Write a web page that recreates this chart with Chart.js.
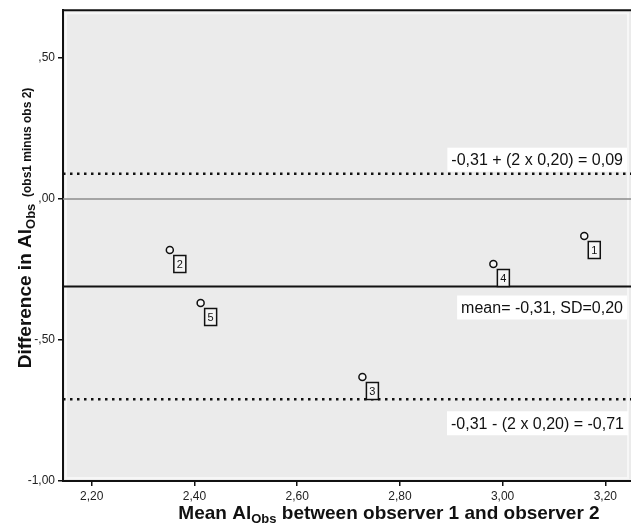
<!DOCTYPE html>
<html>
<head>
<meta charset="utf-8">
<script src="https://cdn.jsdelivr.net/npm/chart.js@4.4.1/dist/chart.umd.min.js"></script>
<style>
  html, body { margin: 0; padding: 0; background: #fff; }
  #plot { display: block; }
</style>
</head>
<body>
<canvas id="plot" width="631" height="529"></canvas>
<script>
'use strict';

// ─── Data ────────────────────────────────────────────────────────────────────
const caseIds   = ['1', '2', '3', '4', '5'];
const meanVals  = [3.159, 2.352, 2.727, 2.982, 2.412];
const diffVals  = [-0.131, -0.181, -0.631, -0.230, -0.369];

const xTicks      = [2.2, 2.4, 2.6, 2.8, 3.0, 3.2];
const xTickLabels = ['2,20', '2,40', '2,60', '2,80', '3,00', '3,20'];
const yTicks      = [-1, -0.5, 0, 0.5];
const yTickLabels = ['-1,00', '-,50', ',00', ',50'];

const meanDiff   = -0.31;
const upperLimit = 0.09;
const lowerLimit = -0.71;
const upperText  = '-0,31 + (2 x 0,20) = 0,09';
const meanText   = 'mean= -0,31, SD=0,20';
const lowerText  = '-0,31 - (2 x 0,20) = -0,71';

const FONT = '"Liberation Sans", Arial, sans-serif';

// ─── Helpers ─────────────────────────────────────────────────────────────────

// Draw a run of text pieces (different sizes / baseline shifts) centred on x.
function drawRich(ctx, parts, cx, cy) {
  let total = 0;
  for (const p of parts) { ctx.font = p.font; total += ctx.measureText(p.text).width; }
  let x = cx - total / 2;
  ctx.textAlign = 'left';
  ctx.textBaseline = 'alphabetic';
  for (const p of parts) {
    ctx.font = p.font;
    ctx.fillText(p.text, x, cy + (p.dy || 0));
    x += ctx.measureText(p.text).width;
  }
}

// Right-aligned label on a white patch
function drawBoxedLabel(ctx, text, right, cy) {
  ctx.font = '16px ' + FONT;
  const w = ctx.measureText(text).width;
  ctx.fillStyle = '#ffffff';
  ctx.fillRect(right - w - 4, cy - 12, w + 8, 24);
  ctx.fillStyle = '#111';
  ctx.textAlign = 'right';
  ctx.textBaseline = 'middle';
  ctx.fillText(text, right, cy + 1);
}

function hLine(ctx, area, y, color, width, dash) {
  ctx.save();
  ctx.strokeStyle = color;
  ctx.lineWidth = width;
  ctx.setLineDash(dash || []);
  ctx.beginPath();
  ctx.moveTo(area.left, y);
  ctx.lineTo(area.right, y);
  ctx.stroke();
  ctx.restore();
}

// ─── Plugin: panel background, reference lines, case boxes, titles ───────────
const blandAltman = {
  id: 'blandAltman',
  beforeDraw(chart) {
    const { ctx, chartArea: a } = chart;
    ctx.save();
    ctx.fillStyle = '#ebebeb';
    ctx.fillRect(a.left, a.top, a.right - a.left, a.bottom - a.top);
    ctx.strokeStyle = '#f7f7f7';
    ctx.lineWidth = 2;
    ctx.strokeRect(a.left + 3, a.top + 3, a.right - a.left - 6, a.bottom - a.top - 6);
    ctx.restore();
  },
  beforeDatasetsDraw(chart) {
    const { ctx, chartArea: a, scales: { y } } = chart;
    const yUp = y.getPixelForValue(upperLimit);
    const yZero = y.getPixelForValue(0);
    const yMean = y.getPixelForValue(meanDiff);
    const yLow = y.getPixelForValue(lowerLimit);

    hLine(ctx, a, yZero, '#8c8c8c', 1.5);
    hLine(ctx, a, yMean, '#111', 2);
    hLine(ctx, a, yUp, '#111', 2.5, [2.5, 4.5]);
    hLine(ctx, a, yLow, '#111', 2.5, [2.5, 4.5]);

    ctx.save();
    drawBoxedLabel(ctx, upperText, 623, yUp - 14);
    drawBoxedLabel(ctx, meanText, 623, yMean + 21);
    drawBoxedLabel(ctx, lowerText, 624, yLow + 24);
    ctx.restore();
  },
  afterDatasetsDraw(chart) {
    const { ctx } = chart;
    const meta = chart.getDatasetMeta(0);
    ctx.save();
    meta.data.forEach((pt, i) => {
      const bx = pt.x + 10, by = pt.y + 14;
      ctx.fillStyle = '#f4f4f4';
      ctx.strokeStyle = '#111';
      ctx.lineWidth = 1.5;
      ctx.beginPath();
      ctx.rect(bx - 6, by - 8.5, 12, 17);
      ctx.fill();
      ctx.stroke();
      ctx.fillStyle = '#111';
      ctx.font = '11px ' + FONT;
      ctx.textAlign = 'center';
      ctx.textBaseline = 'middle';
      ctx.fillText(caseIds[i], bx, by + 1);
    });
    ctx.restore();
  },
  afterDraw(chart) {
    const { ctx, chartArea: a } = chart;
    ctx.save();
    // top frame line
    ctx.strokeStyle = '#111';
    ctx.lineWidth = 2;
    ctx.beginPath();
    ctx.moveTo(a.left - 1, a.top);
    ctx.lineTo(a.right, a.top);
    ctx.stroke();

    ctx.fillStyle = '#111';
    // x axis title
    drawRich(ctx, [
      { text: 'Mean Al', font: 'bold 19px ' + FONT },
      { text: 'Obs', font: 'bold 13px ' + FONT, dy: 4 },
      { text: ' between observer 1 and observer 2', font: 'bold 19px ' + FONT },
    ], (a.left + 631) / 2 + 42, 519);

    // y axis title (rotated)
    ctx.translate(31, 228);
    ctx.rotate(-Math.PI / 2);
    drawRich(ctx, [
      { text: 'Difference in Al', font: 'bold 19px ' + FONT },
      { text: 'Obs', font: 'bold 13px ' + FONT, dy: 4 },
      { text: '  (obs1 minus obs 2)', font: 'bold 12px ' + FONT },
    ], 0, 0);
    ctx.restore();
  },
};

// ─── Chart ───────────────────────────────────────────────────────────────────
new Chart(document.getElementById('plot'), {
  type: 'scatter',
  data: {
    datasets: [{
      data: meanVals.map((m, i) => ({ x: m, y: diffVals[i] })),
      pointRadius: 3.5,
      pointBorderWidth: 1.5,
      pointBorderColor: '#111',
      pointBackgroundColor: '#f6f6f6',
    }],
  },
  options: {
    responsive: false,
    animation: false,
    devicePixelRatio: 1,
    layout: { padding: { top: 9, right: 0, left: 0, bottom: 0 }, autoPadding: false },
    plugins: {
      legend: { display: false },
      tooltip: { enabled: false },
    },
    scales: {
      x: {
        type: 'linear',
        min: 2.144,
        max: 3.25,
        afterBuildTicks: (s) => { s.ticks = xTicks.map(v => ({ value: v })); },
        afterFit: (s) => { s.height = 48; },
        ticks: {
          color: '#222',
          font: { family: FONT, size: 12 },
          padding: 3,
          maxRotation: 0,
          callback: (v) => xTickLabels[xTicks.findIndex(t => Math.abs(t - v) < 1e-6)],
        },
        grid: { drawOnChartArea: false, tickLength: 5, color: '#111', lineWidth: 1.5 },
        border: { color: '#111', width: 2 },
      },
      y: {
        type: 'linear',
        min: -1,
        max: 0.67,
        afterBuildTicks: (s) => { s.ticks = yTicks.map(v => ({ value: v })); },
        afterFit: (s) => { s.width = 63; },
        ticks: {
          color: '#222',
          font: { family: FONT, size: 12 },
          padding: 3,
          callback: (v) => yTickLabels[yTicks.findIndex(t => Math.abs(t - v) < 1e-6)],
        },
        grid: { drawOnChartArea: false, tickLength: 5, color: '#111', lineWidth: 1.5 },
        border: { color: '#111', width: 2 },
      },
    },
  },
  plugins: [blandAltman],
});
</script>
</body>
</html>
